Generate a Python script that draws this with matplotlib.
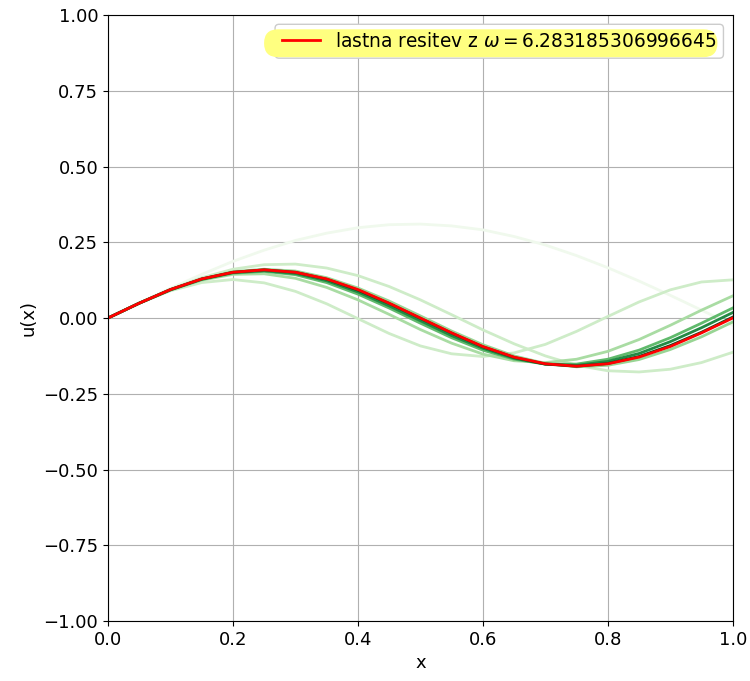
"""Shooting method: trial solutions u(x) and the eigen-solution."""
import matplotlib
matplotlib.use("Agg")
import matplotlib.pyplot as plt
from matplotlib.patches import FancyBboxPatch

x = [0.00, 0.05, 0.10, 0.15, 0.20, 0.25, 0.30, 0.35, 0.40, 0.45, 0.50,
     0.55, 0.60, 0.65, 0.70, 0.75, 0.80, 0.85, 0.90, 0.95, 1.00]

# trial solutions, in order of the iterations (light -> dark)
u_try1 = [0, .050, .098, .144, .187, .224, .256, .280, .298, .308, .310,
          .304, .291, .269, .241, .206, .166, .122, .075, .026, -.024]
u_try2 = [0, .049, .090, .117, .127, .116, .088, .047, -.002, -.051, -.092,
          -.118, -.127, -.115, -.087, -.044, .005, .053, .093, .119, .126]
u_try3 = [0, .049, .095, .133, .161, .176, .178, .165, .140, .104, .060,
          .011, -.039, -.085, -.125, -.156, -.174, -.178, -.169, -.147, -.113]
u_try4 = [0, .049, .092, .125, .144, .146, .131, .101, .060, .012, -.038,
          -.083, -.119, -.141, -.147, -.136, -.110, -.071, -.024, .026, .073]
u_try5 = [0, .049, .094, .129, .153, .161, .155, .133, .099, .056, .007,
          -.043, -.088, -.125, -.150, -.161, -.156, -.137, -.104, -.062, -.013]
u_try6 = [0, .049, .093, .127, .148, .154, .143, .117, .079, .033, -.017,
          -.065, -.106, -.136, -.152, -.152, -.136, -.106, -.065, -.017, .033]
u_try7 = [0, .049, .093, .128, .150, .156, .147, .123, .086, .040, -.009,
          -.058, -.100, -.133, -.152, -.156, -.143, -.117, -.078, -.032, .018]
u_try8 = [0, .049, .094, .129, .151, .159, .151, .128, .092, .048, -.001,
          -.050, -.095, -.130, -.152, -.159, -.150, -.127, -.091, -.047, .003]
trials = [u_try1, u_try2, u_try3, u_try4, u_try5, u_try6, u_try7, u_try8]
shades = [0.05, 0.22, 0.22, 0.35, 0.4, 0.55, 0.75, 0.95]

u_eigen = [0, .049, .094, .129, .151, .159, .151, .129, .094, .049, 0,
           -.049, -.094, -.129, -.151, -.159, -.151, -.129, -.094, -.049, 0]
omega = 6.283185306996645

fs = 13
fig = plt.figure(figsize=(7.5, 6.81), dpi=100)
ax = fig.add_axes([0.144, 0.088, 0.833, 0.890])
cmap = plt.get_cmap("Greens")
for u, s in zip(trials, shades):
    ax.plot(x, u, color=cmap(s), lw=2)
ax.plot(x, u_eigen, color="red", lw=2,
        label=r"lastna resitev z $\omega = $" + str(omega))

ax.set_xlim(0, 1); ax.set_ylim(-1, 1)
ax.set_yticks([-1, -0.75, -0.5, -0.25, 0, 0.25, 0.5, 0.75, 1])
ax.set_xlabel("x", fontsize=fs); ax.set_ylabel("u(x)", fontsize=fs)
ax.tick_params(labelsize=fs)
ax.grid(True)

# legend without its own frame; frame and yellow marker drawn by hand
leg = ax.legend(loc="upper right", fontsize=13.4, frameon=False)
leg.set_zorder(7)
fig.canvas.draw()
bb = leg.get_window_extent()
frame = FancyBboxPatch((bb.x0, bb.y0), bb.width, bb.height,
                       boxstyle="round,pad=0,rounding_size=4",
                       transform=None, facecolor="white", edgecolor="0.8",
                       lw=1, zorder=5)
hy0, hy1 = bb.y0 + 1, bb.y1 - 5
mark = FancyBboxPatch((bb.x0 - 11, hy0), bb.width + 5, hy1 - hy0,
                      boxstyle="round,pad=0,rounding_size=%g" % ((hy1 - hy0) / 2),
                      transform=None, facecolor="#ffff80", edgecolor="none",
                      zorder=6)
fig.add_artist(frame)
fig.add_artist(mark)
# keep the legend on top of the marker
fig.add_artist(leg)
leg.figure = fig

fig.savefig("out.png", dpi=100)
